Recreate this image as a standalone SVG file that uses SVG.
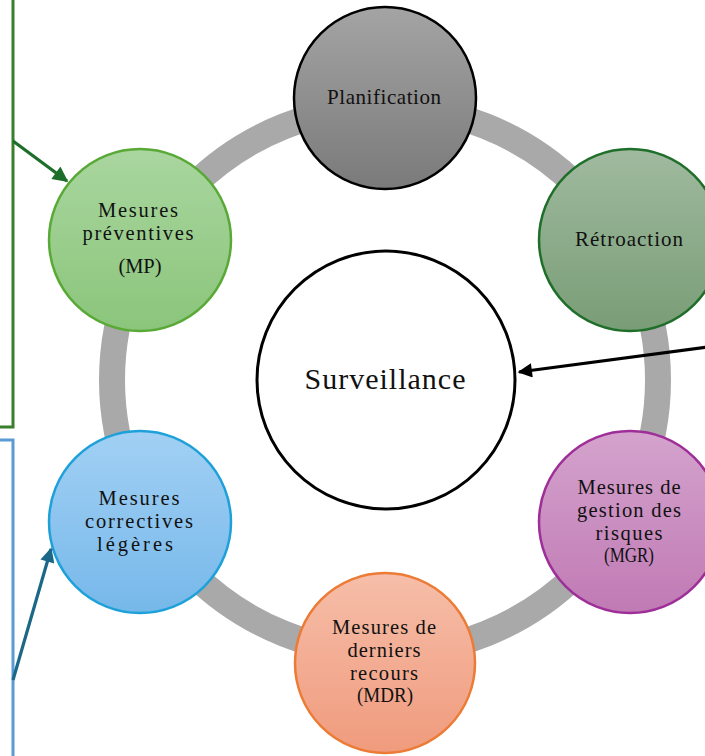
<svg xmlns="http://www.w3.org/2000/svg" width="705" height="756" viewBox="0 0 705 756">
  <style>
    .lbl { font-family: "Liberation Serif", "Times New Roman", serif; fill: #111; text-anchor: middle; }
    .s18 { font-size: 20.5px; }
    .s20 { font-size: 21px; }
    .node { stroke-width: 2.5; }
    .conn { fill: none; stroke-width: 3.2; }
  </style>
  <defs>
    <linearGradient id="gPlan" x1="0" y1="0" x2="0" y2="1">
      <stop offset="0" stop-color="#a4a4a4"/><stop offset="1" stop-color="#7a7a7a"/>
    </linearGradient>
    <linearGradient id="gRetro" x1="0" y1="0" x2="0" y2="1">
      <stop offset="0" stop-color="#a0ba9f"/><stop offset="1" stop-color="#799d76"/>
    </linearGradient>
    <linearGradient id="gMgr" x1="0" y1="0" x2="0" y2="1">
      <stop offset="0" stop-color="#d4a3cd"/><stop offset="1" stop-color="#c07ab4"/>
    </linearGradient>
    <linearGradient id="gMdr" x1="0" y1="0" x2="0" y2="1">
      <stop offset="0" stop-color="#f6bea9"/><stop offset="1" stop-color="#f09b7d"/>
    </linearGradient>
    <linearGradient id="gCorr" x1="0" y1="0" x2="0" y2="1">
      <stop offset="0" stop-color="#a2d0f4"/><stop offset="1" stop-color="#76b8ea"/>
    </linearGradient>
    <linearGradient id="gPrev" x1="0" y1="0" x2="0" y2="1">
      <stop offset="0" stop-color="#a9d69f"/><stop offset="1" stop-color="#8bc57b"/>
    </linearGradient>
    <marker id="ahBlack" viewBox="0 0 10 10" refX="9" refY="5" markerWidth="5.5" markerHeight="4.5" orient="auto" markerUnits="strokeWidth">
      <path d="M0,0 L10,5 L0,10 z" fill="#000"/>
    </marker>
    <marker id="ahGreen" viewBox="0 0 10 10" refX="9" refY="5" markerWidth="6" markerHeight="4.8" orient="auto" markerUnits="strokeWidth">
      <path d="M0,0 L10,5 L0,10 z" fill="#1d6e2a"/>
    </marker>
    <marker id="ahBlue" viewBox="0 0 10 10" refX="9" refY="5" markerWidth="5.5" markerHeight="4.5" orient="auto" markerUnits="strokeWidth">
      <path d="M0,0 L10,5 L0,10 z" fill="#1b6788"/>
    </marker>
  </defs>

  <rect width="705" height="756" fill="#fff"/>

  <!-- side frames -->
  <g id="frames" fill="none" stroke-width="3">
    <path d="M13,-2 V427 H-2" stroke="#3b7e2b"/>
    <path d="M-2,440 H13 V760" stroke="#5b9bd5"/>
  </g>

  <!-- cycle ring -->
  <circle id="ring" cx="385" cy="380" r="273" fill="none" stroke="#a9a9a9" stroke-width="26"/>

  <g id="surveillance">
    <circle cx="386" cy="380" r="129" fill="#fff" stroke="#000" stroke-width="3"/>
    <text class="lbl" x="385" y="389" font-size="30" textLength="161" lengthAdjust="spacing">Surveillance</text>
  </g>

  <g id="planification">
    <circle class="node" cx="385" cy="98" r="91" fill="url(#gPlan)" stroke="#000"/>
    <text class="lbl s20" x="384" y="104" textLength="114" lengthAdjust="spacing">Planification</text>
  </g>

  <g id="retroaction">
    <circle class="node" cx="630" cy="240" r="91" fill="url(#gRetro)" stroke="#1f6e2a"/>
    <text class="lbl s20" x="629" y="246" textLength="108" lengthAdjust="spacing">Rétroaction</text>
  </g>

  <g id="mgr">
    <circle class="node" cx="630" cy="522" r="91" fill="url(#gMgr)" stroke="#9e2f98"/>
    <text class="lbl s18" x="629" y="494" textLength="103" lengthAdjust="spacing">Mesures de</text>
    <text class="lbl s18" x="629" y="517" textLength="104" lengthAdjust="spacing">gestion des</text>
    <text class="lbl s18" x="629" y="540" textLength="67" lengthAdjust="spacing">risques</text>
    <text class="lbl s18" x="629" y="562" textLength="50" lengthAdjust="spacingAndGlyphs">(MGR)</text>
  </g>

  <g id="mdr">
    <circle class="node" cx="385" cy="663" r="90" fill="url(#gMdr)" stroke="#ec7b35"/>
    <text class="lbl s18" x="384" y="634" textLength="104" lengthAdjust="spacing">Mesures de</text>
    <text class="lbl s18" x="384" y="657" textLength="73" lengthAdjust="spacing">derniers</text>
    <text class="lbl s18" x="384" y="680" textLength="68" lengthAdjust="spacing">recours</text>
    <text class="lbl s18" x="385" y="702" textLength="56" lengthAdjust="spacingAndGlyphs">(MDR)</text>
  </g>

  <g id="correctives">
    <circle class="node" cx="140" cy="522" r="91" fill="url(#gCorr)" stroke="#1ea1d9"/>
    <text class="lbl s18" x="139" y="505" textLength="81" lengthAdjust="spacing">Mesures</text>
    <text class="lbl s18" x="139" y="528" textLength="108" lengthAdjust="spacing">correctives</text>
    <text class="lbl s18" x="135" y="551" textLength="76" lengthAdjust="spacing">légères</text>
  </g>

  <g id="preventives">
    <circle class="node" cx="140" cy="240" r="91" fill="url(#gPrev)" stroke="#59a936"/>
    <text class="lbl s18" x="138" y="217" textLength="80" lengthAdjust="spacing">Mesures</text>
    <text class="lbl s18" x="138" y="240" textLength="111" lengthAdjust="spacing">préventives</text>
    <text class="lbl s18" x="140" y="273" textLength="43" lengthAdjust="spacing">(MP)</text>
  </g>

  <!-- connectors -->
  <g id="connectors">
    <line class="conn" x1="13" y1="141" x2="67" y2="181" stroke="#1d6e2a" marker-end="url(#ahGreen)"/>
    <line class="conn" x1="13" y1="680" x2="51" y2="549" stroke="#1b6788" marker-end="url(#ahBlue)"/>
    <line class="conn" x1="707" y1="347" x2="519" y2="372" stroke="#000" marker-end="url(#ahBlack)"/>
  </g>
</svg>
